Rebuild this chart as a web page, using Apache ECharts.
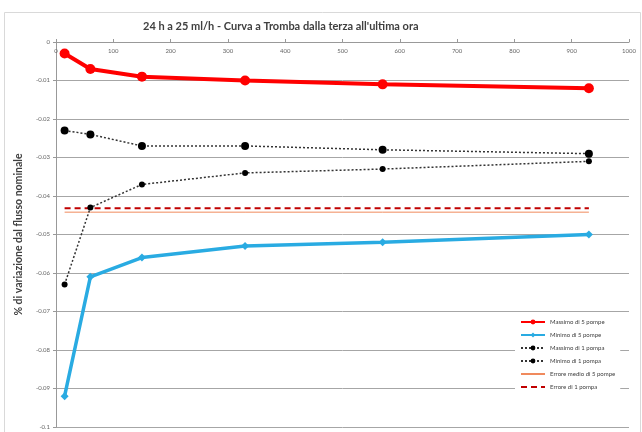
<!DOCTYPE html>
<html><head><meta charset="utf-8">
<script src="https://cdn.jsdelivr.net/npm/echarts@6/dist/echarts.min.js"></script>
<style>html,body{margin:0;padding:0;background:#fff}#c{width:642px;height:432px}</style>
</head><body><div id="c"></div>
<script>
const titleText = "24 h a 25 ml/h - Curva a Tromba dalla terza all'ultima ora";
const yAxisTitle = "% di variazione dal flusso nominale";
const xValues = [15, 60, 150, 330, 570, 930];
const massimo5 = [-0.003, -0.007, -0.009, -0.010, -0.011, -0.012];
const minimo5 = [-0.092, -0.061, -0.056, -0.053, -0.052, -0.050];
const massimo1 = [-0.023, -0.024, -0.027, -0.027, -0.028, -0.029];
const minimo1 = [-0.063, -0.043, -0.037, -0.034, -0.033, -0.031];
const erroreMedio5 = [-0.0442, -0.0442, -0.0442, -0.0442, -0.0442, -0.0442];
const errore1 = [-0.0432, -0.0432, -0.0432, -0.0432, -0.0432, -0.0432];
const names = ["Massimo di 5 pompe", "Minimo di 5 pompe", "Massimo di 1 pompa", "Minimo di 1 pompa", "Errore medio di 5 pompe", "Errore di 1 pompa"];

const pair = arr => xValues.map((x, i) => [x, arr[i]]);
const chart = echarts.init(document.getElementById('c'), null, {renderer: 'canvas'});
chart.setOption({
  animation: false,
  backgroundColor: '#fff',
  textStyle: {fontFamily: 'Lato, "Open Sans", sans-serif'},
  title: {
    text: titleText, left: 138, top: 16,
    textStyle: {fontSize: 11, fontWeight: 'bold', color: '#404040', fontFamily: 'Lato'}
  },
  graphic: [{
    type: 'rect', shape: {x: 4.5, y: 12.5, width: 636, height: 420}, silent: true,
    style: {fill: 'none', stroke: '#d9d9d9', lineWidth: 1}, z: -1
  }],
  grid: {left: 56, right: 13, top: 42, bottom: 5},
  legend: {
    orient: 'vertical', left: 515, top: 314, itemGap: 7, itemWidth: 24, itemHeight: 6,
    backgroundColor: '#fff',
    textStyle: {fontSize: 6, color: '#404040'},
    data: [
      {name: names[0]}, {name: names[1]}, {name: names[2]}, {name: names[3]},
      {name: names[4], itemStyle: {opacity: 0}}, {name: names[5], itemStyle: {opacity: 0}}
    ]
  },
  xAxis: {
    type: 'value', position: 'top', min: 0, max: 1000, interval: 100,
    axisLine: {show: true, lineStyle: {color: '#999', width: 1}},
    axisTick: {show: true, inside: false, length: 3, lineStyle: {color: '#999'}},
    axisLabel: {inside: true, fontSize: 6, color: '#666', margin: 6, formatter: v => String(v)},
    splitLine: {show: false}
  },
  yAxis: {
    type: 'value', min: -0.1, max: 0, interval: 0.01,
    name: yAxisTitle, nameLocation: 'middle', nameRotate: 90, nameGap: 32,
    nameTextStyle: {fontSize: 10.5, fontWeight: 'bold', color: '#404040'},
    axisLine: {show: true, lineStyle: {color: '#999'}},
    axisTick: {show: true, length: 3, lineStyle: {color: '#999'}},
    axisLabel: {fontSize: 6, color: '#666', margin: 6,
      formatter: v => v === 0 ? '0' : String(+v.toFixed(2))},
    splitLine: {show: true, lineStyle: {color: '#a6a6a6', width: 1}}
  },
  series: [
    {name: names[0], type: 'line', data: pair(massimo5), color: '#ff0000',
     lineStyle: {width: 4, color: '#ff0000'}, symbol: 'circle', symbolSize: 10,
     itemStyle: {color: '#ff0000'}, z: 5},
    {name: names[1], type: 'line', data: pair(minimo5), color: '#29abe2',
     lineStyle: {width: 3.5, color: '#29abe2'}, symbol: 'diamond', symbolSize: 8,
     itemStyle: {color: '#29abe2'}, z: 5},
    {name: names[2], type: 'line', data: pair(massimo1), color: '#000',
     lineStyle: {width: 1.5, type: [2, 2], color: '#333'}, symbol: 'circle', symbolSize: 8,
     itemStyle: {color: '#000'}, z: 4},
    {name: names[3], type: 'line', data: pair(minimo1), color: '#000',
     lineStyle: {width: 1.5, type: [2, 2], color: '#333'}, symbol: 'circle', symbolSize: 6,
     itemStyle: {color: '#000'}, z: 4},
    {name: names[4], type: 'line', data: pair(erroreMedio5), color: '#f08a5d',
     lineStyle: {width: 1, color: '#f08a5d'}, symbol: 'none', showSymbol: false, z: 3},
    {name: names[5], type: 'line', data: pair(errore1), color: '#c00000',
     lineStyle: {width: 2, type: [6, 4], color: '#c00000'}, symbol: 'none', showSymbol: false, z: 3}
  ]
});
</script></body></html>
